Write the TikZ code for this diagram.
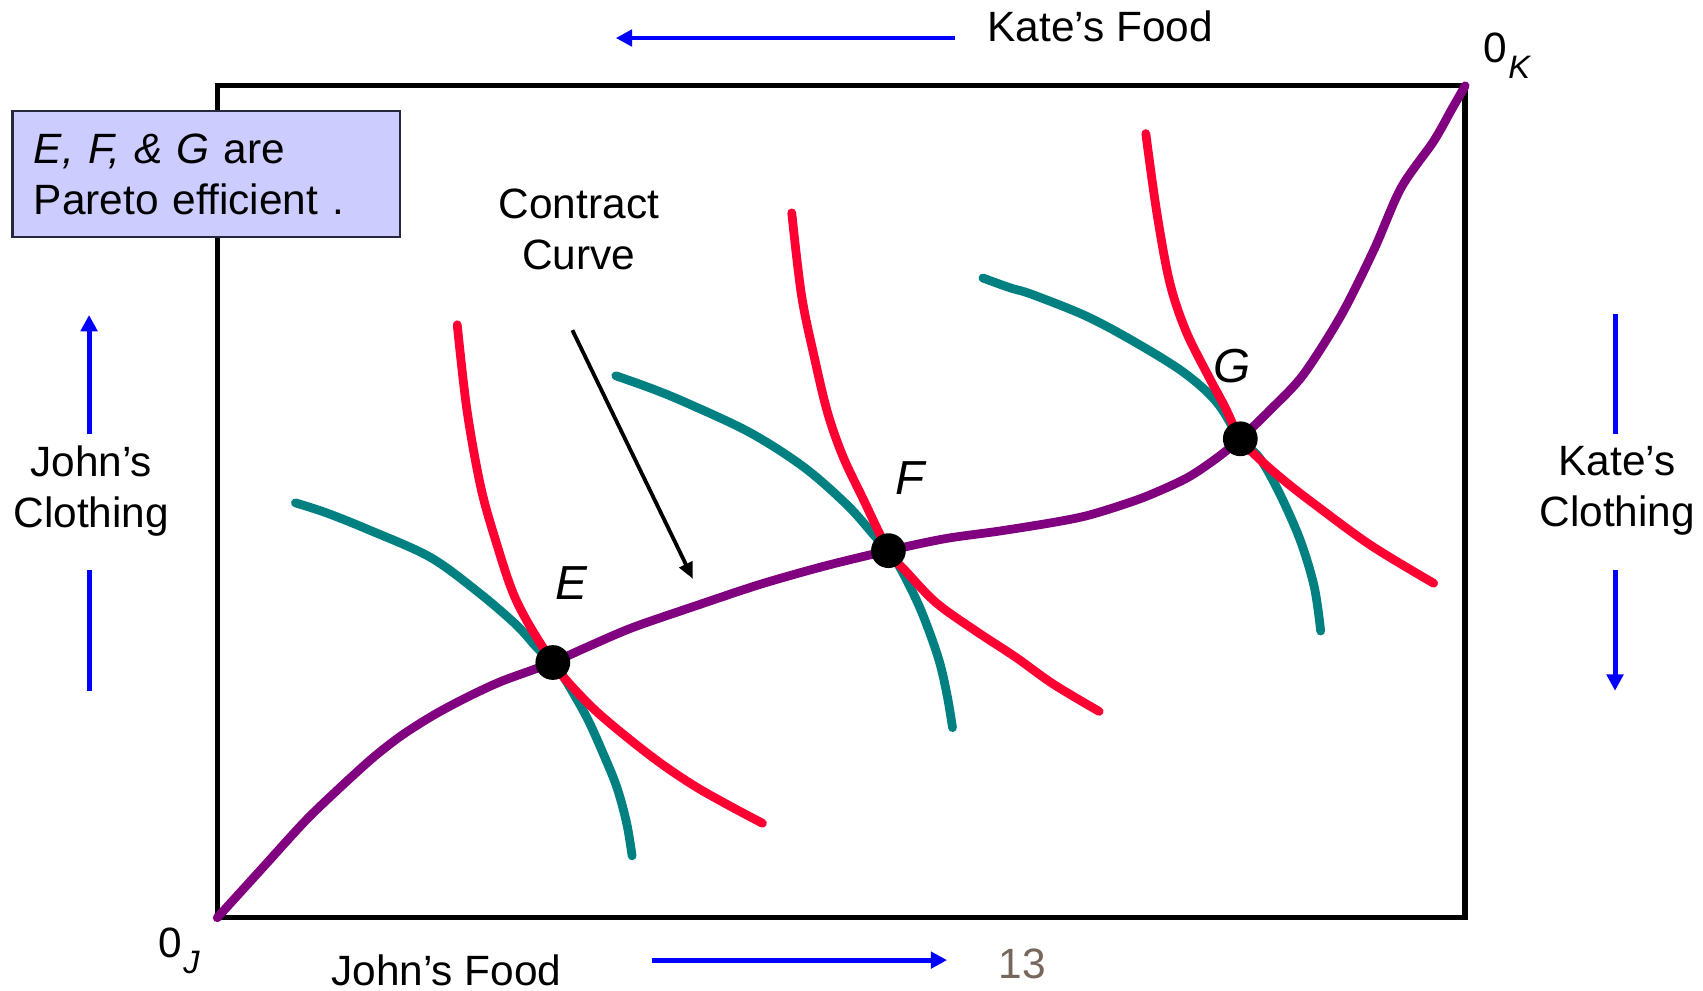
\documentclass[tikz,border=0pt]{standalone}
\usepackage{fontspec}
\setmainfont{Liberation Sans}
\usetikzlibrary{arrows.meta}
\definecolor{cred}{RGB}{255,0,51}
\definecolor{cteal}{RGB}{0,128,128}
\definecolor{cpurple}{RGB}{128,0,128}
\definecolor{cblue}{RGB}{0,0,255}
\definecolor{cbox}{RGB}{204,204,255}
\definecolor{cboxline}{RGB}{40,40,60}
\definecolor{cgray}{RGB}{118,102,92}
\begin{document}
\begin{tikzpicture}[x=0.01cm,y=-0.01cm,
  txt/.style={font=\fontsize{11.1}{13.4}\selectfont, inner sep=0},
  lbl/.style={font=\fontsize{12.5}{15}\selectfont\itshape, inner sep=0},
  bluearrow/.style={draw=cblue, line width=1.3pt, -{Triangle[length=0.15cm,width=0.15cm]}},
  blueline/.style={draw=cblue, line width=1.3pt},
  icurve/.style={line width=2.3pt, line cap=round, line join=round},
  dot/.style={circle, fill=black, minimum size=0.32cm, inner sep=0pt},
  subsc/.style={font=\fontsize{8.5}{10}\selectfont\itshape, inner sep=0}]
\useasboundingbox (0,0) rectangle (1568,912);

% main box
\coordinate (oJpt) at (200,845);
\coordinate (oKpt) at (1349,79);
\draw[line width=1.4pt] (oJpt) rectangle (oKpt);

% info box
\node[draw=cboxline, fill=cbox, line width=0.7pt, anchor=north west,
      minimum width=3.57cm, minimum height=1.16cm, text width=3.17cm,
      inner xsep=0.2cm, inner ysep=0pt, align=left,
      font=\fontsize{11.1}{13.4}\selectfont] (info) at (10,101)
  {\textit{E, F, \& G} are\\Pareto efficient .};

% indifference curves (teal)
\draw[icurve, cteal] plot[smooth, tension=0.55] coordinates {(272,463) (300,472) (340,488) (396,513) (440,545) (475,575) (495,597) (509,610) (520,625) (540,660) (555,693) (568,725) (577,758) (582,788)};
\draw[icurve, cteal] plot[smooth, tension=0.55] coordinates {(567,346) (598,357) (630,370) (690,398) (740,430) (780,465) (805,493) (818,507) (830,525) (848,562) (864,606) (872,640) (877,670)};
\draw[icurve, cteal] plot[smooth, tension=0.55] coordinates {(905,256) (930,265) (950,271) (1000,291) (1045,315) (1090,343) (1120,370) (1142,404) (1160,422) (1178,454) (1197,497) (1210,540) (1216,581)};

% indifference curves (red)
\draw[icurve, cred] plot[smooth, tension=0.55] coordinates {(421,299) (430,378) (443,450) (458,503) (472,545) (487,575) (509,610) (522,627) (548,654) (580,681) (610,704) (640,724) (670,741) (702,758)};
\draw[icurve, cred] plot[smooth, tension=0.55] coordinates {(729,196) (738,272) (750,330) (762,380) (776,420) (795,460) (818,507) (835,527) (862,555) (897,580) (935,605) (970,630) (1012,655)};
\draw[icurve, cred] plot[smooth, tension=0.55] coordinates {(1055,123) (1065,195) (1077,260) (1092,305) (1113,347) (1128,375) (1142,404) (1160,423) (1183,443) (1210,464) (1262,502) (1320,537)};

% contract curve (purple)
\draw[icurve, cpurple] plot[smooth, tension=0.5] coordinates {(200,845) (240,801) (280,757) (310,728) (343,698) (370,677) (400,658) (430,642) (460,628) (490,617) (509,610) (540,596) (582,578) (640,558) (700,538) (760,521) (818,507) (870,496) (920,489) (970,481) (1000,475) (1030,466) (1058,456) (1093,440) (1120,422) (1142,404) (1170,377) (1200,345) (1235,290) (1265,230) (1290,173) (1320,130) (1337,100) (1349,79)};

% efficient points
\node[dot] (E) at (509,610) {};
\node[dot] (F) at (818,507) {};
\node[dot] (G) at (1142,404) {};
\node[lbl] (Elbl) at (526,537) {E};
\node[lbl] (Flbl) at (838,440) {F};
\node[lbl] (Glbl) at (1134,337) {G};

% contract curve label and arrow
\node[txt, align=center] (contract) at (533,211) {Contract\\Curve};
\coordinate (ccA) at (527,304);
\coordinate (ccB) at (638,533);
\draw[line width=1pt, -{Triangle[length=0.15cm,width=0.13cm]}] (ccA) -- (ccB);

% Kate's food
\node[txt, anchor=base] (katefood) at (1013,38) {Kate’s Food};
\coordinate (kfA) at (879,35);
\coordinate (kfB) at (567,35);
\draw[bluearrow] (kfA) -- (kfB);

% John's food
\node[txt, anchor=base] (johnfood) at (411,907) {John’s Food};
\coordinate (jfA) at (600,884);
\coordinate (jfB) at (872,884);
\draw[bluearrow] (jfA) -- (jfB);
\node[txt, anchor=base, text=cgray] (pagenum) at (941,901) {13};

% John's clothing
\node[txt, align=center] (johncloth) at (84,452) {John’s\\Clothing};
\coordinate (jcA) at (82,400);
\coordinate (jcB) at (82,290);
\coordinate (jcC) at (82,525);
\coordinate (jcD) at (82,636);
\draw[bluearrow] (jcA) -- (jcB);
\draw[blueline] (jcC) -- (jcD);

% Kate's clothing
\node[txt, align=center] (katecloth) at (1489,452) {Kate’s\\Clothing};
\coordinate (kcA) at (1487,289);
\coordinate (kcB) at (1487,400);
\coordinate (kcC) at (1487,525);
\coordinate (kcD) at (1487,636);
\draw[blueline] (kcA) -- (kcB);
\draw[bluearrow] (kcC) -- (kcD);

% origins
\node[txt, anchor=base west] (oJ) at (145,882) {0};
\node[subsc, anchor=base west] (oJsub) at (oJ.base east) {\raisebox{-0.9ex}{J}};
\node[txt, anchor=base west] (oK) at (1365,58) {0};
\node[subsc, anchor=base west] (oKsub) at (oK.base east) {\raisebox{-0.9ex}{K}};
\end{tikzpicture}
\end{document}
